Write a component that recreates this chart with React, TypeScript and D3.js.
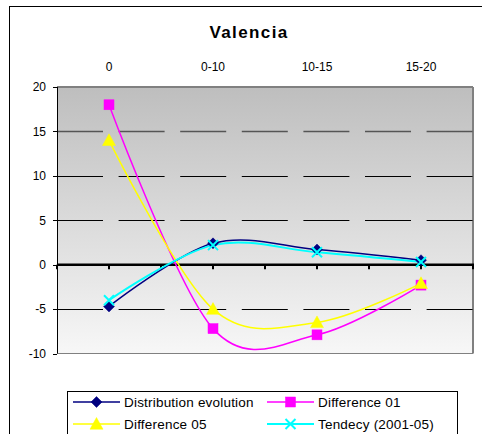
import React from "react";
import * as d3 from "d3";

const categories = ["0", "0-10", "10-15", "15-20"];
const distributionEvolution = [-4.7, 2.4, 1.7, 0.5];
const difference01 = [18, -7.2, -7.9, -2.3];
const difference05 = [14, -5.0, -6.5, -2.1];
const tendency = [-4.0, 2.2, 1.4, 0.3];
const seriesNames = ["Distribution evolution", "Difference 01", "Difference 05", "Tendecy (2001-05)"];
const yTickValues = [-10, -5, 0, 5, 10, 15, 20];
const gridValues = [15, 10, 5, -5];

const FONT = "'Liberation Sans', Arial, sans-serif";

type Series = { name: string; values: number[]; color: string; marker: string; width: number };

const series: Series[] = [
  { name: seriesNames[0], values: distributionEvolution, color: "#000080", marker: "diamond", width: 1.5 },
  { name: seriesNames[1], values: difference01, color: "#FF00FF", marker: "square", width: 1.5 },
  { name: seriesNames[2], values: difference05, color: "#FFFF00", marker: "triangle", width: 1.5 },
  { name: seriesNames[3], values: tendency, color: "#00FFFF", marker: "x", width: 2 },
];

function Marker({ type, cx, cy, color }: { type: string; cx: number; cy: number; color: string }) {
  if (type === "diamond") {
    const s = 5.5;
    return <path d={`M${cx},${cy - s}L${cx + s},${cy}L${cx},${cy + s}L${cx - s},${cy}Z`} fill={color} stroke={color} strokeWidth={0.5} />;
  }
  if (type === "square") {
    const s = 5;
    return <rect x={cx - s} y={cy - s} width={2 * s} height={2 * s} fill={color} stroke={color} strokeWidth={0.5} />;
  }
  if (type === "triangle") {
    const s = 6.5;
    return <path d={`M${cx},${cy - s}L${cx + s},${cy + s * 0.8}L${cx - s},${cy + s * 0.8}Z`} fill={color} stroke={color} strokeWidth={0.5} />;
  }
  const s = 5;
  return (
    <path d={`M${cx - s},${cy - s}L${cx + s},${cy + s}M${cx - s},${cy + s}L${cx + s},${cy - s}`} stroke={color} strokeWidth={2} fill="none" />
  );
}

export default function App() {
  const left = 57, right = 473, top = 87, bottom = 353.5;
  const x = d3.scaleBand<string>().domain(categories).range([left, right]);
  const y = d3.scaleLinear().domain([-10, 20]).range([bottom, top]);
  const cx = (c: string) => (x(c) as number) + x.bandwidth() / 2;

  const line = d3
    .line<number>()
    .x((_, i) => cx(categories[i]))
    .y((v) => y(v))
    .curve(d3.curveCatmullRom.alpha(0));

  const xTicks: number[] = [];
  categories.forEach((c) => {
    xTicks.push(x(c) as number);
    xTicks.push(cx(c));
  });
  xTicks.push(right);

  const legendItems = [
    { s: series[0], lx: 73, ly: 402 },
    { s: series[1], lx: 267, ly: 402 },
    { s: series[2], lx: 73, ly: 424 },
    { s: series[3], lx: 267, ly: 424 },
  ];

  return (
    <svg width={482} height={434} style={{ position: "absolute", left: 0, top: 0, background: "#fff" }} fontFamily={FONT}>
      <defs>
        <linearGradient id="bg" x1="0" y1="0" x2="0" y2="1">
          <stop offset="0%" stopColor="#bebebe" />
          <stop offset="100%" stopColor="#f7f7f7" />
        </linearGradient>
      </defs>
      <rect x={0} y={0} width={482} height={434} fill="#fff" />
      {/* outer chart border */}
      <rect x={9.5} y={6.5} width={500} height={460} fill="none" stroke="#000" strokeWidth={1} />

      <text x={249} y={38} textAnchor="middle" fontSize={17} fontWeight="bold" letterSpacing={1.4}>
        Valencia
      </text>

      {/* plot area */}
      <rect x={left} y={top} width={right - left} height={bottom - top} fill="url(#bg)" />
      <line x1={left} x2={right} y1={top} y2={top} stroke="#808080" strokeWidth={2} />
      <line x1={right} x2={right} y1={top} y2={bottom} stroke="#808080" strokeWidth={2} />
      <line x1={left} x2={right} y1={bottom} y2={bottom} stroke="#808080" strokeWidth={1} />

      {gridValues.map((v) => (
        <line
          key={v}
          x1={left}
          x2={right}
          y1={Math.round(y(v)) + 0.5}
          y2={Math.round(y(v)) + 0.5}
          stroke={v === 15 ? "#555" : "#000"}
          strokeWidth={v === 15 ? 1.4 : 1}
          strokeDasharray="46,15.6"
        />
      ))}

      {/* y axis */}
      <line x1={left + 0.5} x2={left + 0.5} y1={top} y2={bottom} stroke="#000" strokeWidth={1} />
      {yTickValues.map((v) => (
        <g key={v}>
          <line x1={left - 4} x2={left} y1={Math.round(y(v)) + 0.5} y2={Math.round(y(v)) + 0.5} stroke="#000" strokeWidth={1} />
          <text x={46} y={y(v) + 4.3} textAnchor="end" fontSize={12}>
            {v}
          </text>
        </g>
      ))}

      {/* zero axis */}
      <line x1={left} x2={right + 1} y1={y(0)} y2={y(0)} stroke="#000" strokeWidth={2.5} />
      {xTicks.map((t, i) => (
        <line key={i} x1={t} x2={t} y1={y(0)} y2={y(0) + 4.5} stroke="#000" strokeWidth={2} />
      ))}

      {categories.map((c) => (
        <text key={c} x={cx(c)} y={71} textAnchor="middle" fontSize={12}>
          {c}
        </text>
      ))}

      {series.map((s) => (
        <path key={s.name} d={line(s.values) || ""} fill="none" stroke={s.color} strokeWidth={s.width} />
      ))}
      {series.map((s) =>
        s.values.map((v, i) => <Marker key={s.name + i} type={s.marker} cx={cx(categories[i])} cy={y(v)} color={s.color} />)
      )}

      {/* legend */}
      <rect x={67.5} y={391.5} width={390} height={60} fill="#fff" stroke="#000" strokeWidth={1} />
      {legendItems.map(({ s, lx, ly }) => (
        <g key={s.name}>
          <line x1={lx} x2={lx + 47} y1={ly} y2={ly} stroke={s.color} strokeWidth={s.width} />
          <Marker type={s.marker} cx={lx + 23.5} cy={ly} color={s.color} />
          <text x={lx + 51} y={ly + 5} fontSize={13.5} letterSpacing={0.2}>
            {s.name}
          </text>
        </g>
      ))}
    </svg>
  );
}
